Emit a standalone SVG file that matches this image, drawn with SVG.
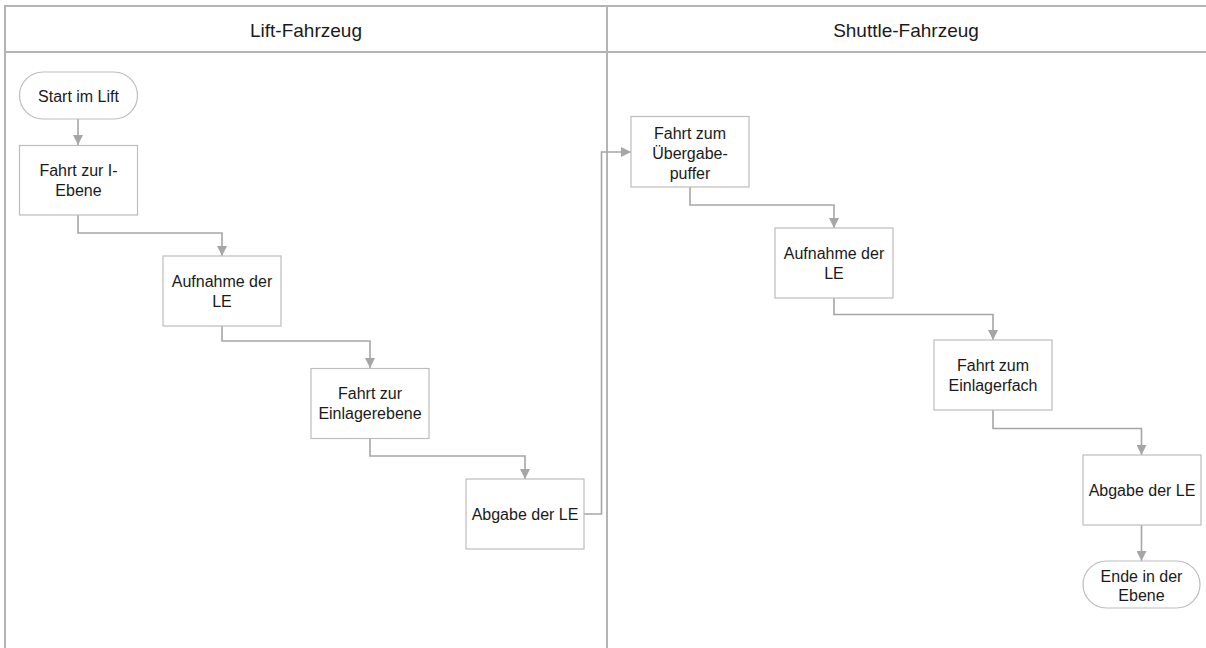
<svg xmlns="http://www.w3.org/2000/svg" width="1206" height="648" viewBox="0 0 1206 648">
<style>
.lane{fill:none;stroke:#b4b4b4;stroke-width:2}
.hdr{font-family:"Liberation Sans",Arial,sans-serif;font-size:19px;fill:#1a1a1a;text-anchor:middle}
.box{fill:#ffffff;stroke:#bdbdbd;stroke-width:1.2}
.t{font-family:"Liberation Sans",Arial,sans-serif;font-size:16px;fill:#1a1a1a;text-anchor:middle}
.c{fill:none;stroke:#a6a6a6;stroke-width:1.6}
</style>
<defs>
<marker id="ah" viewBox="0 0 10 10" refX="10" refY="5" markerWidth="10" markerHeight="10" markerUnits="userSpaceOnUse" orient="auto">
<path d="M0,0 L10,5 L0,10 Z" fill="#a6a6a6"/>
</marker>
</defs>
<rect width="1206" height="648" fill="#ffffff"/>
<g id="lanes">
<path class="lane" d="M5,660 V6 H1210 M5,52 H1210 M607,6 V660"/>
<text class="hdr" x="306" y="36.5">Lift-Fahrzeug</text>
<text class="hdr" x="906" y="36.5">Shuttle-Fahrzeug</text>
</g>
<g id="connectors">
<path class="c" d="M78,119 V145" marker-end="url(#ah)"/>
<path class="c" d="M78,215 V233 H222 V256" marker-end="url(#ah)"/>
<path class="c" d="M222,326 V341 H370 V368" marker-end="url(#ah)"/>
<path class="c" d="M370,438 V456 H525 V479" marker-end="url(#ah)"/>
<path class="c" d="M584,514 H601.5 V152 H631" marker-end="url(#ah)"/>
<path class="c" d="M690,187 V205 H834 V228" marker-end="url(#ah)"/>
<path class="c" d="M834,298 V314.5 H993 V340" marker-end="url(#ah)"/>
<path class="c" d="M993,410 V428.5 H1141.5 V455" marker-end="url(#ah)"/>
<path class="c" d="M1141.5,525 V561" marker-end="url(#ah)"/>
</g>
<g id="start">
<rect class="box" x="19.5" y="72" width="118" height="47" rx="23.5"/>
<text class="t" x="78.5" y="101.5">Start im Lift</text>
</g>
<g id="n1">
<rect class="box" x="19.5" y="145.5" width="118" height="69.5"/>
<text class="t" x="78.5" y="175.5">Fahrt zur I-</text>
<text class="t" x="78.5" y="195.5">Ebene</text>
</g>
<g id="n2">
<rect class="box" x="163" y="256" width="118" height="70"/>
<text class="t" x="222" y="286.5">Aufnahme der</text>
<text class="t" x="222" y="306.5">LE</text>
</g>
<g id="n3">
<rect class="box" x="311" y="368.5" width="118" height="70"/>
<text class="t" x="370" y="398.5">Fahrt zur</text>
<text class="t" x="370" y="418.5">Einlagerebene</text>
</g>
<g id="n4">
<rect class="box" x="466" y="479" width="118" height="70"/>
<text class="t" x="525" y="519.5">Abgabe der LE</text>
</g>
<g id="n5">
<rect class="box" x="631" y="116.5" width="118" height="70.5"/>
<text class="t" x="690" y="138.5">Fahrt zum</text>
<text class="t" x="690" y="158.5">Übergabe-</text>
<text class="t" x="690" y="178.5">puffer</text>
</g>
<g id="n6">
<rect class="box" x="775" y="228" width="118" height="70"/>
<text class="t" x="834" y="258.5">Aufnahme der</text>
<text class="t" x="834" y="278.5">LE</text>
</g>
<g id="n7">
<rect class="box" x="934" y="340" width="118" height="70"/>
<text class="t" x="993" y="370.5">Fahrt zum</text>
<text class="t" x="993" y="390.5">Einlagerfach</text>
</g>
<g id="n8">
<rect class="box" x="1083" y="455" width="118" height="70"/>
<text class="t" x="1142" y="495.5">Abgabe der LE</text>
</g>
<g id="end">
<rect class="box" x="1083" y="561" width="117" height="47" rx="23.5"/>
<text class="t" x="1141.5" y="581.5">Ende in der</text>
<text class="t" x="1141.5" y="601">Ebene</text>
</g>
</svg>
